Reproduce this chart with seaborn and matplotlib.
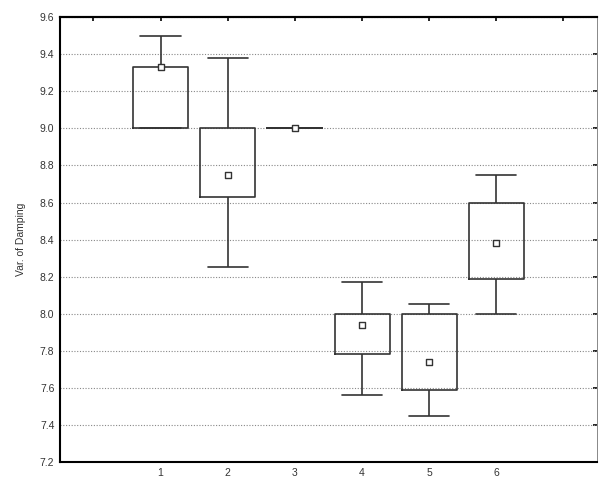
import numpy as np
import pandas as pd
import seaborn as sns
import matplotlib
matplotlib.use("Agg")
import matplotlib.pyplot as plt

# Five-number summaries per group
groups = [1, 2, 3, 4, 5, 6]
whisker_low = [9.00, 8.25, 9.00, 7.56, 7.45, 8.00]
box_low = [9.00, 8.63, 9.00, 7.78, 7.59, 8.19]
center = [9.33, 8.75, 9.00, 7.94, 7.74, 8.38]
box_high = [9.33, 9.00, 9.00, 8.00, 8.00, 8.60]
whisker_high = [9.50, 9.38, 9.00, 8.17, 8.05, 8.75]

y_ticks = [7.2, 7.4, 7.6, 7.8, 8.0, 8.2, 8.4, 8.6, 8.8, 9.0, 9.2, 9.4, 9.6]
y_label = "Var. of Damping"

# Long-form table: five values per group reproduce min / q1 / median / q3 / max
rows = []
for g, a, b, c, d, e in zip(groups, whisker_low, box_low, center, box_high, whisker_high):
    for v in (a, b, c, d, e):
        rows.append({"group": g, "value": v})
df = pd.DataFrame(rows)
centers = pd.DataFrame({"group": groups, "value": center})

sns.set_style("white")
plt.rcParams["font.family"] = ["Liberation Sans", "DejaVu Sans"]

fig = plt.figure(figsize=(5.99, 4.78), dpi=100)
ax = fig.add_axes([0.1, 0.0335, 0.8967, 0.9305])

line_c = "#333333"
sns.boxplot(
    data=df, x="group", y="value", native_scale=True, whis=(0, 100),
    fill=False, color=line_c, linewidth=1.2, width=0.82,
    medianprops={"visible": False}, showfliers=False, ax=ax,
    capwidths=0.6,
)
sns.scatterplot(
    data=centers, x="group", y="value", marker="s", s=14,
    facecolor="white", edgecolor=line_c, linewidth=1.0, zorder=5, ax=ax,
)

ax.set_xlim(-0.5, 7.5)
ax.set_ylim(7.2, 9.6)
ax.set_yticks(y_ticks)
ax.set_yticklabels([f"{t:.1f}" for t in y_ticks], fontsize=7.5, color="#333333")
ax.set_xticks(groups)
ax.set_xticklabels([str(g) for g in groups], fontsize=7.5, color="#333333")
ax.set_xlabel("")
ax.set_ylabel(y_label, fontsize=7.5, color="#333333", labelpad=10)

ax.yaxis.grid(True, linestyle=(0, (1, 1.5)), color="#888888", linewidth=0.8)
ax.xaxis.grid(False)
ax.set_axisbelow(True)

ax.tick_params(axis="both", length=0, pad=4)

# Inward tick marks along the top and right edges
top = ax.secondary_xaxis("top")
top.set_xticks(np.arange(0, 8))
top.set_xticklabels([])
top.tick_params(direction="in", length=3, width=1.2, color="black")
top.spines["top"].set_linewidth(1.5)
top.spines["top"].set_color("black")
right = ax.secondary_yaxis("right")
right.set_yticks(y_ticks)
right.set_yticklabels([])
right.tick_params(direction="in", length=3, width=1.2, color="black")
right.spines["right"].set_linewidth(0.6)
right.spines["right"].set_color("#888888")

for side in ("left", "bottom", "top"):
    ax.spines[side].set_visible(True)
    ax.spines[side].set_color("black")
    ax.spines[side].set_linewidth(1.5)
ax.spines["right"].set_visible(True)
ax.spines["right"].set_color("#888888")
ax.spines["right"].set_linewidth(0.6)

fig.savefig("out.png", dpi=100, facecolor="white")
